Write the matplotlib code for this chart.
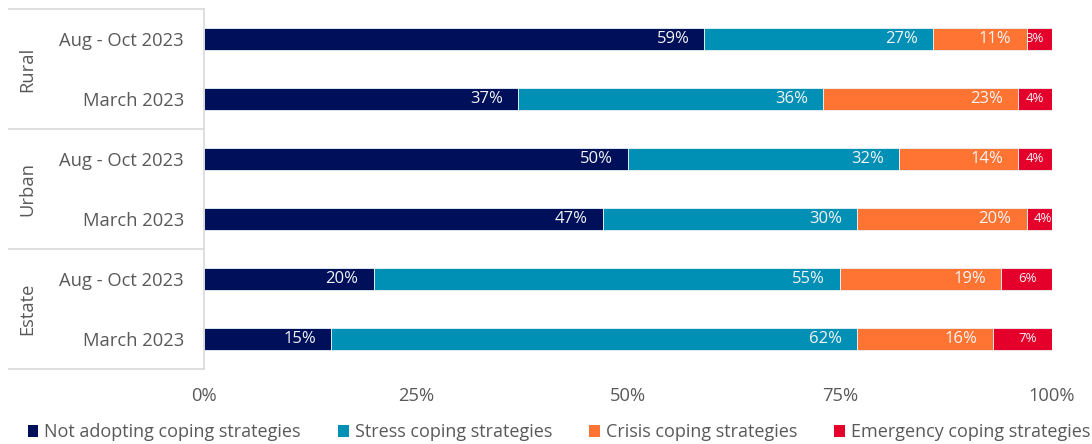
import matplotlib.pyplot as plt
import matplotlib.transforms as mtransforms
from matplotlib.patches import Patch

plt.rcParams['font.family'] = ['Open Sans', 'DejaVu Sans']

groups = ["Rural", "Urban", "Estate"]
periods = ["Aug - Oct 2023", "March 2023"]
series_names = ["Not adopting coping strategies", "Stress coping strategies",
                "Crisis coping strategies", "Emergency coping strategies"]
# rows top to bottom: Rural Aug-Oct, Rural March, Urban Aug-Oct, Urban March, Estate Aug-Oct, Estate March
not_adopting = [59, 37, 50, 47, 20, 15]
stress = [27, 36, 32, 30, 55, 62]
crisis = [11, 23, 14, 20, 19, 16]
emergency = [3, 4, 4, 4, 6, 7]
x_ticks = [0, 25, 50, 75, 100]

colors = ["#000F5A", "#0090B5", "#FF7433", "#E4002B"]
grey_text = "#595959"
line_grey = "#D9D9D9"

W, H = 1092, 444
fig = plt.figure(figsize=(W / 100, H / 100), dpi=100)
ax = fig.add_axes([204 / W, 1 - 369 / H, (1052 - 204) / W, (369 - 9) / H])

n = len(not_adopting)
ypos = list(range(n))
series = [not_adopting, stress, crisis, emergency]
left = [0] * n
px = 100 / (1052 - 204)  # data units per pixel
for vals, col, name in zip(series, colors, series_names):
    ax.barh(ypos, vals, left=left, height=0.38, color=col, edgecolor="#EAF4F8",
            linewidth=0.6, label=name)
    small = col == colors[3]
    for i, v in enumerate(vals):
        end = left[i] + v
        xt = end - (8 if v <= 4 else 15) * px
        ax.text(xt, ypos[i], f"{v}%", ha="right", va="center",
                color="#F4F4F4", fontsize=9.5 if small else 12)
    left = [l + v for l, v in zip(left, vals)]

ax.set_xlim(0, 100)
ax.set_ylim(n - 0.5, -0.5)
ax.set_xticks(x_ticks)
ax.set_xticklabels([f"{t}%" for t in x_ticks])
ax.set_yticks(ypos)
ax.set_yticklabels(periods * len(groups))
ax.tick_params(axis="both", length=0, colors=grey_text, labelsize=13.2)
ax.tick_params(axis="y", pad=14.5)
ax.tick_params(axis="x", pad=13)
for s in ["top", "right", "bottom"]:
    ax.spines[s].set_visible(False)
ax.spines["left"].set_color(line_grey)
ax.spines["left"].set_linewidth(1.2)

# group separators and group labels on the left
trans = mtransforms.blended_transform_factory(ax.transAxes, ax.transData)
x0 = -(204 - 9) / (1052 - 204)
for k in range(len(groups) + 1):
    yb = -0.5 + 2 * k
    ax.plot([x0, 0], [yb, yb], color=line_grey, lw=1.2, transform=trans,
            clip_on=False)
for k, g in enumerate(groups):
    ax.text(-(204 - 27) / (1052 - 204), 2 * k + 0.5, g, rotation=90,
            ha="center", va="center", color=grey_text, fontsize=13.2,
            transform=trans)

handles = [Patch(facecolor=c, edgecolor="none") for c in colors]
fig.legend(handles, series_names, loc="center", bbox_to_anchor=(559 / W, 1 - 432 / H),
           ncol=4, frameon=False, fontsize=13, handlelength=0.6,
           handleheight=0.65, handletextpad=0.33, columnspacing=2.05,
           labelcolor=grey_text, borderpad=0, borderaxespad=0)

fig.savefig("out.png", dpi=100)
